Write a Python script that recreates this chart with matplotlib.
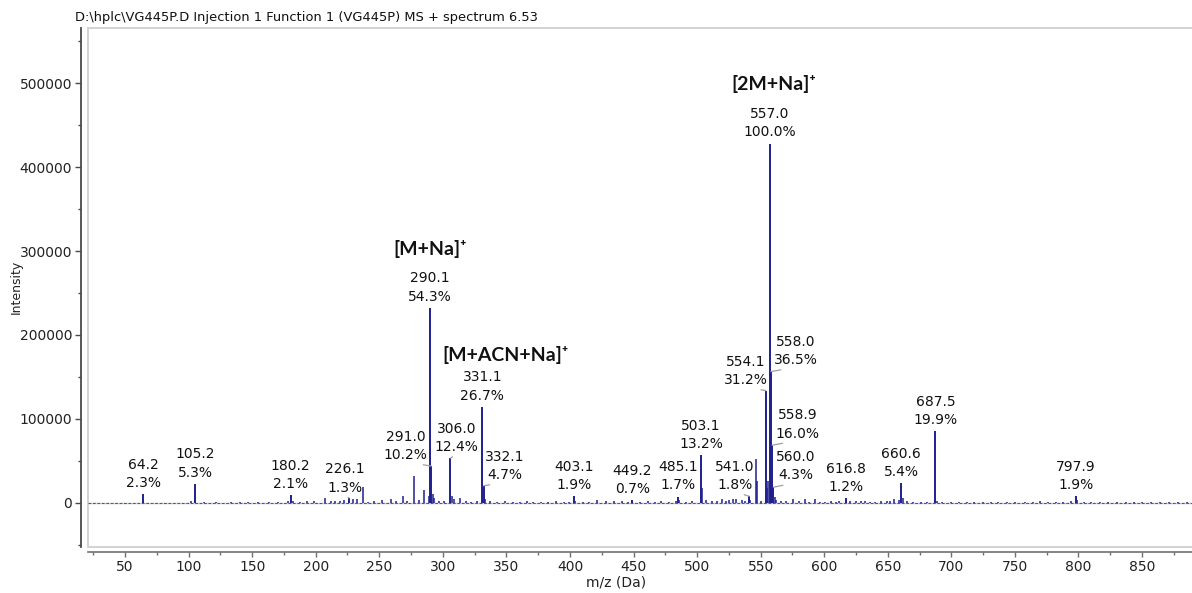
import matplotlib
matplotlib.use("Agg")
import matplotlib.pyplot as plt
from matplotlib.ticker import MultipleLocator, FuncFormatter

TITLE = r"D:\hplc\VG445P.D Injection 1 Function 1 (VG445P) MS + spectrum 6.53"
BASE_INTENSITY = 428000  # counts of the 100 % peak

# Annotated peaks: m/z and relative intensity (%)
label_mz = [64.2, 105.2, 180.2, 226.1, 290.1, 291.0, 306.0, 331.1, 332.1, 403.1,
            449.2, 485.1, 503.1, 541.0, 554.1, 557.0, 558.0, 558.9, 560.0, 616.8,
            660.6, 687.5, 797.9]
label_pct = [2.3, 5.3, 2.1, 1.3, 54.3, 10.2, 12.4, 26.7, 4.7, 1.9,
             0.7, 1.7, 13.2, 1.8, 31.2, 100.0, 36.5, 16.0, 4.3, 1.2,
             5.4, 19.9, 1.9]

# Unlabelled peaks: m/z and relative intensity (%)
minor_mz = [102.0, 112.0, 121.5, 133.0, 140.5, 147.0, 155.0, 163.5, 170.0, 178.5,
            182.0, 188.0, 193.5, 199.0, 207.5, 212.0, 215.5, 219.5, 222.0, 229.5,
            232.5, 236.9, 241.0, 245.5, 252.5, 259.5, 263.0, 268.5, 272.0, 277.5,
            281.0, 285.5, 289.2, 292.0, 293.0, 297.0, 301.0, 307.5, 309.0, 313.5,
            318.0, 322.0, 327.0, 333.1, 337.0, 343.0, 349.0, 355.0, 361.0, 366.0,
            371.0, 377.0, 383.0, 389.0, 395.0, 399.0, 404.1, 410.0, 415.0, 421.5,
            428.5, 435.0, 441.0, 446.0, 455.0, 461.0, 467.0, 472.0, 478.0, 483.5,
            486.1, 491.0, 496.0, 504.1, 507.0, 512.0, 516.0, 519.5, 523.0, 525.0,
            528.0, 531.0, 535.0, 538.0, 542.0, 546.1, 547.1, 550.0, 555.1, 556.1,
            561.0, 562.0, 566.0, 570.0, 575.5, 580.0, 584.5, 588.0, 592.5, 597.0,
            601.0, 605.0, 609.0, 612.0, 620.0, 625.0, 629.0, 632.0, 636.0, 640.0,
            645.0, 649.0, 652.0, 655.0, 658.5, 661.6, 665.0, 670.0, 676.0, 681.0,
            688.5, 693.0, 700.0, 706.0, 712.0, 718.0, 725.0, 731.0, 737.0, 744.0,
            750.0, 758.0, 764.0, 770.0, 776.0, 782.0, 788.0, 794.0, 798.9, 804.0,
            810.0, 817.0, 823.0, 830.0, 837.0, 844.0, 850.0, 857.0, 864.0, 871.0,
            878.0, 885.0]
minor_pct = [0.4, 0.2, 0.2, 0.2, 0.2, 0.2, 0.3, 0.2, 0.3, 0.6,
             0.5, 0.3, 0.4, 0.4, 1.3, 0.5, 0.6, 0.5, 0.7, 0.9,
             1.1, 4.4, 0.3, 0.4, 0.7, 0.9, 0.5, 1.9, 0.6, 7.4,
             0.8, 3.5, 2.0, 2.5, 1.2, 0.5, 0.4, 2.0, 1.0, 1.2,
             0.4, 0.3, 0.4, 1.0, 0.4, 0.3, 0.4, 0.3, 0.3, 0.4,
             0.3, 0.3, 0.3, 0.4, 0.3, 0.3, 0.5, 0.3, 0.3, 0.8,
             0.6, 0.4, 0.4, 0.3, 0.3, 0.4, 0.3, 0.4, 0.3, 0.5,
             0.8, 0.3, 0.4, 4.0, 0.8, 0.5, 0.6, 1.0, 0.6, 0.8,
             1.1, 0.9, 0.7, 0.6, 0.8, 12.1, 6.0, 0.5, 4.0, 6.0,
             1.5, 0.8, 0.4, 0.5, 1.0, 0.4, 0.9, 0.3, 0.9, 0.3,
             0.3, 0.4, 0.3, 0.5, 0.6, 0.4, 0.4, 0.5, 0.3, 0.3,
             0.4, 0.4, 0.6, 0.9, 0.8, 1.2, 0.4, 0.3, 0.3, 0.3,
             0.6, 0.3, 0.3, 0.2, 0.3, 0.2, 0.3, 0.2, 0.3, 0.3,
             0.2, 0.3, 0.3, 0.4, 0.3, 0.3, 0.3, 0.6, 0.8, 0.3,
             0.3, 0.2, 0.3, 0.3, 0.2, 0.2, 0.2, 0.2, 0.2, 0.2,
             0.2, 0.2]

# Adduct assignments
adduct_text = ["[M+Na]\u207a", "[M+ACN+Na]\u207a", "[2M+Na]\u207a"]

x_ticks_major, x_ticks_minor = 50, 25
y_ticks_major, y_ticks_minor = 100000, 50000

# --- layout -----------------------------------------------------------------
W, H = 1192, 593
BOX_TOP, BOX_BOTTOM = 28, 547
fig = plt.figure(figsize=(W / 100, H / 100), dpi=100)
ax = fig.add_axes([88 / W, (H - BOX_BOTTOM) / H, 1104 / W,
                   (BOX_BOTTOM - BOX_TOP) / H])
ax.set_xlim(20.9, 889.3)
ax.set_ylim(-52800, 565800)

BLUE = "#1f1f8e"
FRAME = "#d2d2d2"
AXIS = "#4a4a4a"
TXT = "#111111"
FONT = "DejaVu Sans"

# light frame around the plotting area and the zero line
for xs, ys in (([0, 0], [0, 1]), ([0, 1], [0, 0]), ([0, 1], [1, 1])):
    ax.plot(xs, ys, transform=ax.transAxes, color=FRAME, lw=1.4,
            clip_on=False, zorder=0.5)
ax.axhline(0, color="#cfcfcf", lw=1.0, zorder=1)
ax.plot(ax.get_xlim(), [0, 0], color=BLUE, lw=0.8, ls=(0, (2.5, 1.5)),
        alpha=0.7, zorder=1.5)

# spectrum sticks
to_counts = lambda p: p * BASE_INTENSITY / 100.0
ax.vlines(minor_mz, 0, [to_counts(p) for p in minor_pct], color=BLUE,
          lw=1.1, zorder=2)
ax.vlines(label_mz, 0, [to_counts(p) for p in label_pct], color=BLUE,
          lw=1.4, zorder=3)

# text positions (data coords) for labels that are moved off their peak
moved_labels = {
    226.1: (223.1, 9770),
    291.0: (270.9, 48500),
    306.0: (311.0, 58000),
    332.1: (349.0, 24700),
    541.0: (529.5, 12750),
    554.1: (538.2, 137900),
    558.0: (577.9, 161700),
    558.9: (579.1, 74100),
    560.0: (577.9, 24100),
}
for mz, pct in zip(label_mz, label_pct):
    h = to_counts(pct)
    txt = f"{mz:.1f}\n{pct:.1f}%"
    if mz in moved_labels:
        ax.annotate(txt, xy=(mz, h), xytext=moved_labels[mz],
                    textcoords="data", ha="center", va="bottom",
                    fontsize=10, family=FONT, color=TXT, linespacing=1.38,
                    arrowprops=dict(arrowstyle="-", color="#a0a0a0", lw=0.9,
                                    shrinkA=0, shrinkB=0, relpos=(0.5, 0.0)),
                    zorder=4)
    else:
        ax.annotate(txt, xy=(mz, h), xytext=(0, 3), textcoords="offset points",
                    ha="center", va="bottom", fontsize=10, family=FONT,
                    color=TXT, linespacing=1.38, zorder=4)

adduct_pos = [(290.0, 302400), (349.6, 176000), (560.0, 499000)]
for text, (x, y) in zip(adduct_text, adduct_pos):
    ax.text(x, y, text, ha="center", va="center", fontsize=14,
            fontweight="bold", family=["Lato", "DejaVu Sans"], color=TXT,
            zorder=4)

# axes styling
for side in ("top", "right"):
    ax.spines[side].set_visible(False)
ax.spines["left"].set_position(("outward", 5))
ax.spines["bottom"].set_position(("outward", 3.6))
ax.spines["left"].set_color(AXIS)
ax.spines["left"].set_linewidth(1.3)
ax.spines["bottom"].set_color("#707070")
ax.spines["bottom"].set_linewidth(1.2)

ax.xaxis.set_major_locator(MultipleLocator(x_ticks_major))
ax.xaxis.set_minor_locator(MultipleLocator(x_ticks_minor))
ax.yaxis.set_major_locator(MultipleLocator(y_ticks_major))
ax.yaxis.set_minor_locator(MultipleLocator(y_ticks_minor))
fmt = FuncFormatter(lambda v, _: f"{v:.0f}")
ax.xaxis.set_major_formatter(fmt)
ax.yaxis.set_major_formatter(fmt)
ax.tick_params(axis="both", which="major", labelsize=10, labelcolor="#222222")
ax.tick_params(axis="y", which="major", length=4.5, width=1.0, color=AXIS, pad=2)
ax.tick_params(axis="y", which="minor", length=2.5, width=1.0, color=AXIS)
ax.tick_params(axis="x", which="major", length=3.6, width=1.0, color="#707070", pad=2)
ax.tick_params(axis="x", which="minor", length=2.2, width=1.0, color="#707070")
for lab in ax.get_xticklabels() + ax.get_yticklabels():
    lab.set_family(FONT)

ax.set_xlabel("m/z (Da)", fontsize=10, family=FONT, color="#222222")
ax.xaxis.set_label_coords(0.478, -(576 - BOX_BOTTOM) / (BOX_BOTTOM - BOX_TOP))
ax.set_ylabel("Intensity", fontsize=9, family=FONT, color="#222222")
ax.yaxis.set_label_coords(-0.059, 0.502)

fig.text(75 / W, 1 - 17 / H, TITLE, ha="left", va="center", fontsize=9.4,
         family=FONT, color=TXT)

fig.savefig("out.png", dpi=100, facecolor="white")
